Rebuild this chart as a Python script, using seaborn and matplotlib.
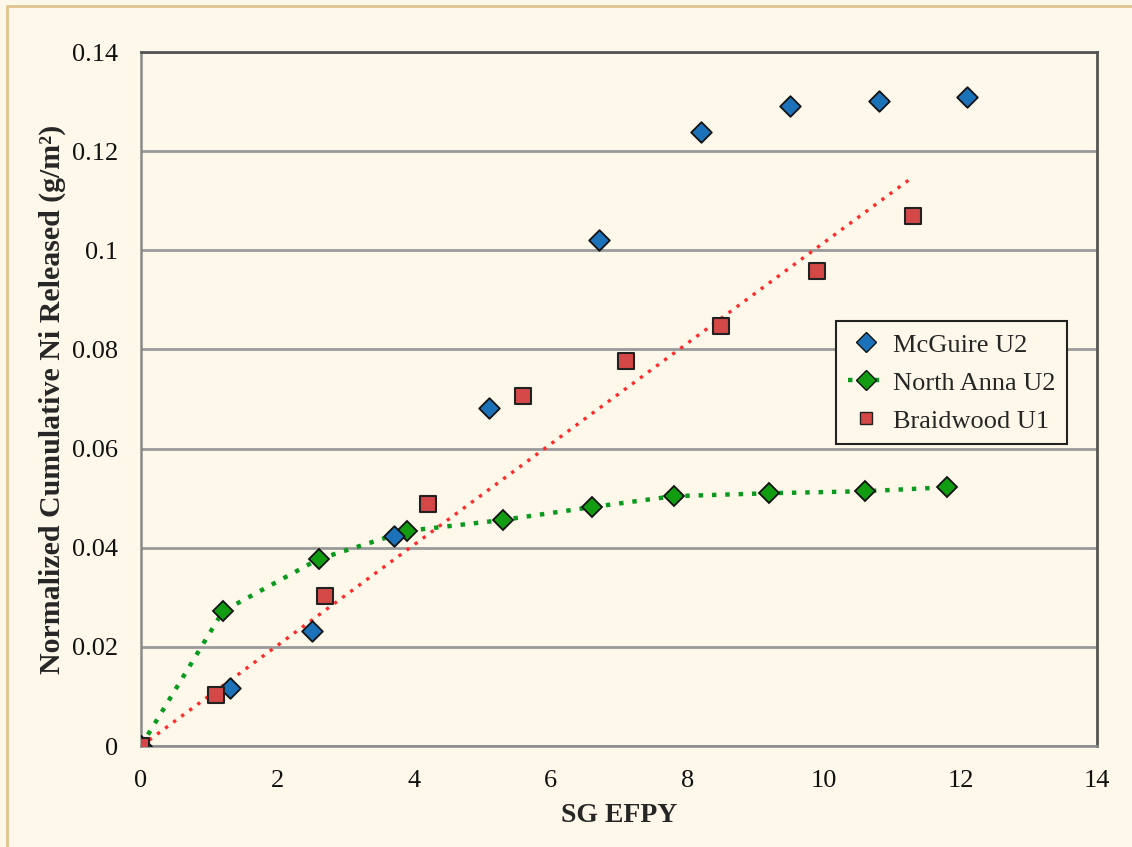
import numpy as np
import pandas as pd
import matplotlib
matplotlib.use("Agg")
import matplotlib.pyplot as plt
from matplotlib.lines import Line2D
import seaborn as sns

# Cumulative nickel release per unit area vs steam generator EFPY
mcguire_x = [0.0, 1.3, 2.5, 3.7, 5.1, 6.7, 8.2, 9.5, 10.8, 12.1]
mcguire_y = [0.0, 0.0117, 0.0232, 0.0424, 0.0682, 0.1021, 0.1238, 0.1291, 0.1301, 0.1309]

north_anna_x = [0.0, 1.2, 2.6, 3.9, 5.3, 6.6, 7.8, 9.2, 10.6, 11.8]
north_anna_y = [0.0, 0.0272, 0.0377, 0.0434, 0.0456, 0.0482, 0.0504, 0.0510, 0.0514, 0.0522]

braidwood_x = [0.0, 1.1, 2.7, 4.2, 5.6, 7.1, 8.5, 9.9, 11.3]
braidwood_y = [0.0, 0.0103, 0.0303, 0.0488, 0.0706, 0.0777, 0.0847, 0.0958, 0.1069]

series_labels = ["McGuire U2", "North Anna U2", "Braidwood U1"]
x_ticks = [0, 2, 4, 6, 8, 10, 12, 14]
y_ticks = [0, 0.02, 0.04, 0.06, 0.08, 0.1, 0.12, 0.14]
y_tick_labels = ["0", "0.02", "0.04", "0.06", "0.08", "0.1", "0.12", "0.14"]

sns.set_theme(style="white")
plt.rcParams["font.family"] = ["Liberation Serif", "DejaVu Serif"]

bg = "#FDF8EA"
fig = plt.figure(figsize=(11.32, 8.47), dpi=100, facecolor=bg)
ax = fig.add_axes([0.1246, 0.1192, 0.8445, 0.8194])
ax.set_facecolor(bg)

# Linear trend through the origin for Braidwood U1
bx = np.array(braidwood_x)
by = np.array(braidwood_y)
slope = (bx * by).sum() / (bx * bx).sum()
trend = pd.DataFrame({"x": [0.0, bx.max()], "y": [0.0, slope * bx.max()]})
sns.lineplot(data=trend, x="x", y="y", ax=ax, color="#FF2A2A", linestyle=(0, (1, 2)),
             linewidth=2.4, legend=False, zorder=3)

df_mc = pd.DataFrame({"x": mcguire_x, "y": mcguire_y})
df_na = pd.DataFrame({"x": north_anna_x, "y": north_anna_y})
df_bw = pd.DataFrame({"x": braidwood_x, "y": braidwood_y})

sns.lineplot(data=df_na, x="x", y="y", ax=ax, color="#0A9A1E", linestyle=(0, (1, 2)),
             linewidth=3.2, marker="D", markersize=10, markerfacecolor="#129C12",
             markeredgecolor="#111111", markeredgewidth=1.3, legend=False, zorder=4)
sns.scatterplot(data=df_mc, x="x", y="y", ax=ax, marker="D", s=110, color="#1B72B8",
                edgecolor="#111111", linewidth=1.3, zorder=5)
sns.scatterplot(data=df_bw, x="x", y="y", ax=ax, marker="s", s=130, color="#D44848",
                edgecolor="#222222", linewidth=1.5, zorder=5)

ax.set_xlim(0, 14)
ax.set_ylim(0, 0.14)
ax.set_xticks(x_ticks)
ax.set_xticklabels([str(t) for t in x_ticks])
ax.set_yticks(y_ticks)
ax.set_yticklabels(y_tick_labels)
ax.tick_params(axis="both", labelsize=19, labelcolor="#111111", length=7, width=1.5,
               direction="out", color="#888888")
ax.tick_params(axis="x", pad=10)
ax.tick_params(axis="y", pad=9.5)

ax.yaxis.grid(True, color="#9A9A9A", linewidth=2.0)
ax.xaxis.grid(False)
ax.set_axisbelow(True)
for side in ["left", "bottom"]:
    ax.spines[side].set_color("#8A8A8A")
    ax.spines[side].set_linewidth(1.8)
ax.spines["right"].set_color("#555555")
ax.spines["right"].set_linewidth(2.0)
ax.spines["top"].set_color("#555555")
ax.spines["top"].set_linewidth(2.0)

ax.set_xlabel("SG EFPY", fontsize=20, fontweight="bold", labelpad=8)
ax.set_ylabel("Normalized Cumulative Ni Released (g/m²)", fontsize=21.5,
              fontweight="bold", labelpad=4)

handles = [
    Line2D([], [], linestyle="none", marker="D", markersize=10, markerfacecolor="#1B72B8",
           markeredgecolor="#111111", markeredgewidth=1.0),
    Line2D([], [], color="#0A9A1E", linestyle=(0, (1, 2)), linewidth=3.2, marker="D",
           markersize=10, markerfacecolor="#129C12", markeredgecolor="#111111",
           markeredgewidth=1.0),
    Line2D([], [], linestyle="none", marker="s", markersize=8, markerfacecolor="#D44848",
           markeredgecolor="#222222", markeredgewidth=1.0),
]
leg = ax.legend(handles, series_labels, loc="upper left", bbox_to_anchor=(0.727, 0.612),
                fontsize=19, frameon=True, fancybox=False, framealpha=1.0,
                facecolor=bg, edgecolor="#222222", handlelength=1.4,
                labelspacing=0.55, borderpad=0.45, handletextpad=0.3,
                borderaxespad=0.0)
leg.get_frame().set_linewidth(1.5)

# Thin tan frame along the top and left edges of the figure
fig.add_artist(Line2D([0.0062, 0.0062], [0.0, 0.993], transform=fig.transFigure,
                      color="#E2C48E", linewidth=2))
fig.add_artist(Line2D([0.0062, 1.0], [0.993, 0.993], transform=fig.transFigure,
                      color="#E2C48E", linewidth=2))

fig.savefig("out.png", dpi=100, facecolor=bg)
